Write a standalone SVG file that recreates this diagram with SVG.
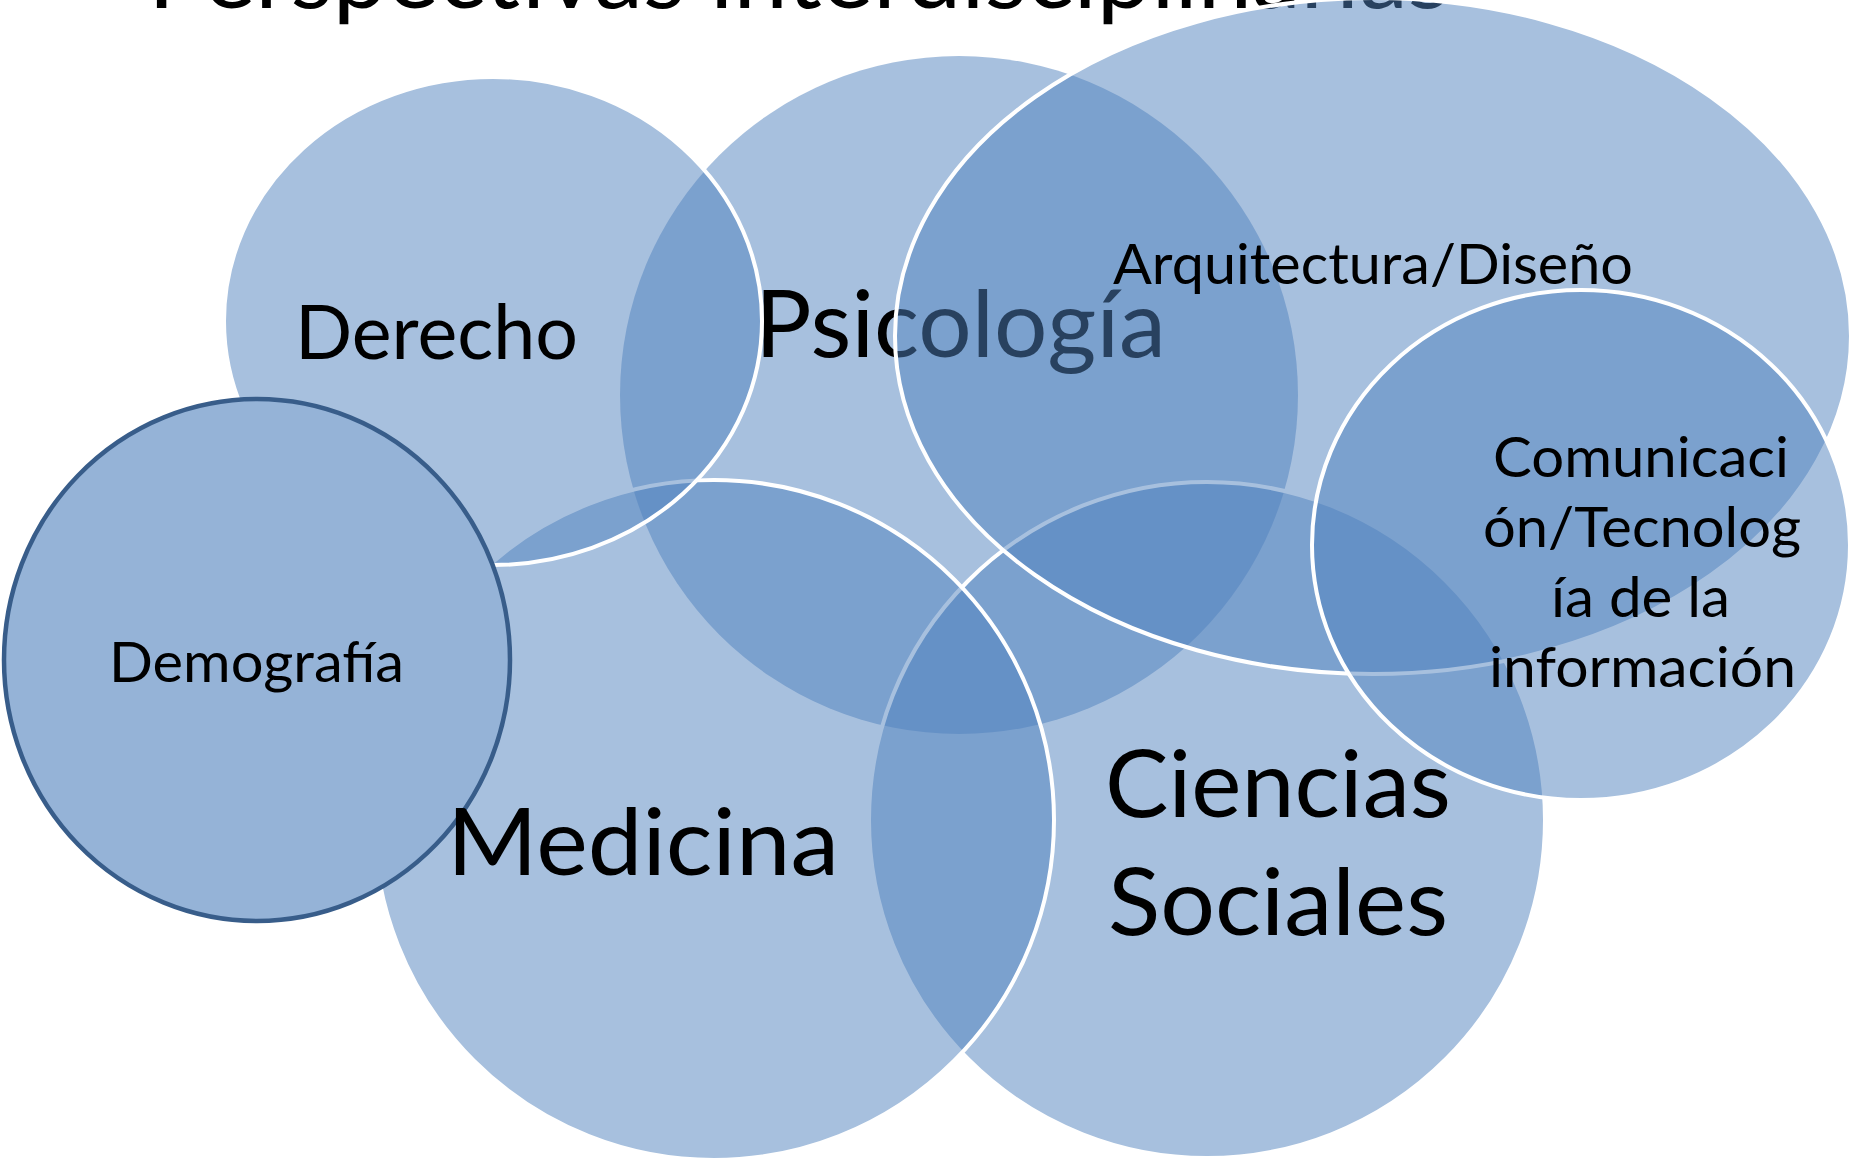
<svg xmlns="http://www.w3.org/2000/svg" width="1853" height="1163" viewBox="0 0 1853 1163">
<style>
.venn{fill:#4F81BD;fill-opacity:0.5;stroke:#FFFFFF;stroke-width:4}
.plain{stroke:none}
.demo{fill:#95B3D7;stroke:#385D8A;stroke-width:4.5}
text{font-family:Lato,"Open Sans","Noto Sans",sans-serif;fill:#000000}
</style>
<rect width="1853" height="1163" fill="#FFFFFF"/>
<g id="title">
<text x="148" y="8" font-size="94" textLength="1302" lengthAdjust="spacingAndGlyphs">Perspectivas interdisciplinarias</text>
</g>
<g id="psicologia">
<circle class="venn plain" cx="959" cy="395" r="339"/>
<text x="755" y="357" font-size="93" textLength="411" lengthAdjust="spacingAndGlyphs">Psicología</text>
</g>
<g id="ciencias-sociales">
<circle class="venn" cx="1207" cy="820" r="338"/>
<text x="1105" y="817" font-size="94" textLength="346" lengthAdjust="spacingAndGlyphs">Ciencias</text>
<text x="1108" y="935" font-size="94" textLength="340" lengthAdjust="spacingAndGlyphs">Sociales</text>
</g>
<g id="medicina">
<circle class="venn" cx="714" cy="820" r="340"/>
</g>
<g id="derecho">
<ellipse class="venn" cx="493" cy="321" rx="269" ry="244"/>
<text x="295" y="359" font-size="75" textLength="283" lengthAdjust="spacingAndGlyphs">Derecho</text>
</g>
<g id="arquitectura-diseno">
<ellipse class="venn" cx="1373" cy="336" rx="478" ry="338"/>
<text x="1113" y="284" font-size="56" textLength="520" lengthAdjust="spacingAndGlyphs">Arquitectura/Diseño</text>
</g>
<g id="comunicacion-tecnologia">
<ellipse class="venn" cx="1581" cy="545" rx="269" ry="255"/>
<text x="1493" y="477" font-size="56" textLength="296" lengthAdjust="spacingAndGlyphs">Comunicaci</text>
<text x="1483" y="547" font-size="56" textLength="318" lengthAdjust="spacingAndGlyphs">ón/Tecnolog</text>
<text x="1551" y="617" font-size="56" textLength="179" lengthAdjust="spacingAndGlyphs">ía de la</text>
<text x="1489" y="687" font-size="56" textLength="307" lengthAdjust="spacingAndGlyphs">información</text>
</g>
<g id="demografia">
<ellipse class="demo" cx="257" cy="660" rx="253" ry="261"/>
<text x="109" y="682" font-size="56" textLength="295" lengthAdjust="spacingAndGlyphs">Demografía</text>
</g>
<g id="medicina-label">
<text x="447" y="875" font-size="94" textLength="392" lengthAdjust="spacingAndGlyphs">Medicina</text>
</g>
<g id="connectors"></g>
</svg>
